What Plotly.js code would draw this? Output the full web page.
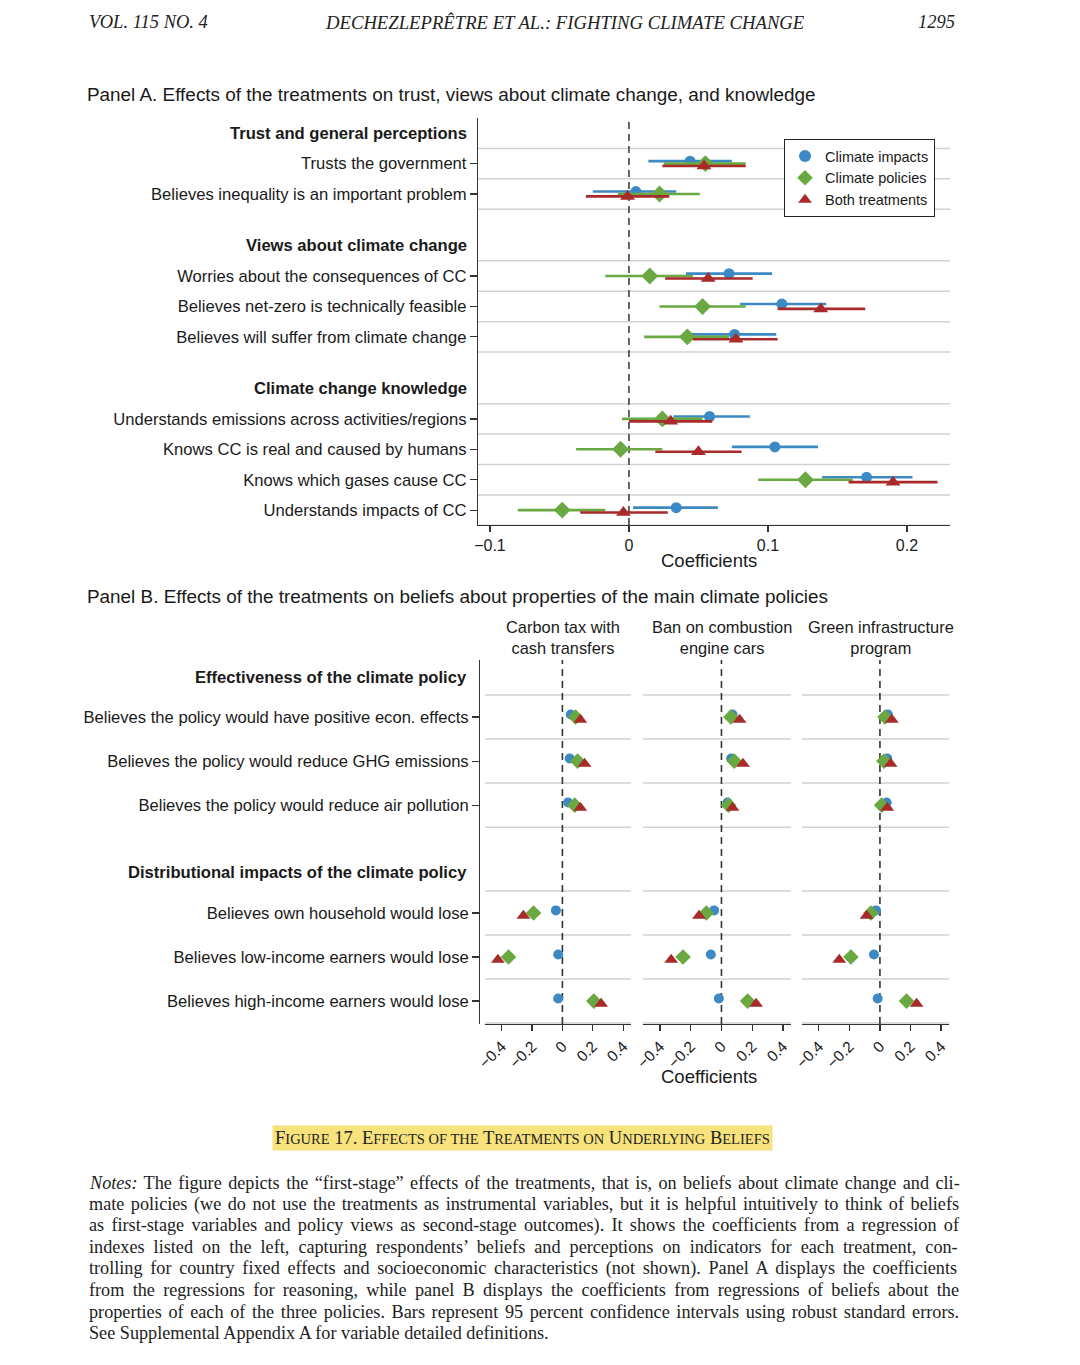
<!DOCTYPE html>
<html>
<head>
<meta charset="utf-8">
<script src="https://cdn.plot.ly/plotly-3.0.1.min.js"></script>
<style>html,body{margin:0;padding:0;background:#fff;}#chart{width:1080px;height:1365px;}</style>
</head>
<body>
<div id="chart"></div>
<script>
// ---------------- DATA ----------------
const seriesNames = ["Climate impacts", "Climate policies", "Both treatments"];

// Panel A
const groupsA = ["Trust and general perceptions", "Views about climate change", "Climate change knowledge"];
const groupSizesA = [2, 3, 4];
const labelsA = [
  "Trusts the government",
  "Believes inequality is an important problem",
  "Worries about the consequences of CC",
  "Believes net-zero is technically feasible",
  "Believes will suffer from climate change",
  "Understands emissions across activities/regions",
  "Knows CC is real and caused by humans",
  "Knows which gases cause CC",
  "Understands impacts of CC"
];
const impactsA   = [0.044, 0.005, 0.072, 0.110, 0.076, 0.058, 0.105, 0.171, 0.034];
const impactsLoA = [0.014, -0.026, 0.041, 0.080, 0.044, 0.032, 0.074, 0.139, 0.003];
const impactsHiA = [0.074, 0.034, 0.103, 0.142, 0.106, 0.087, 0.136, 0.204, 0.064];
const policiesA   = [0.055, 0.022, 0.015, 0.053, 0.042, 0.024, -0.006, 0.127, -0.048];
const policiesLoA = [0.025, -0.008, -0.017, 0.022, 0.011, -0.005, -0.038, 0.093, -0.080];
const policiesHiA = [0.084, 0.051, 0.046, 0.084, 0.072, 0.053, 0.024, 0.161, -0.017];
const bothA   = [0.054, -0.001, 0.057, 0.138, 0.077, 0.030, 0.050, 0.190, -0.004];
const bothLoA = [0.024, -0.031, 0.026, 0.107, 0.046, 0.000, 0.019, 0.158, -0.035];
const bothHiA = [0.084, 0.029, 0.089, 0.170, 0.107, 0.060, 0.081, 0.222, 0.028];
const ticksA = [-0.1, 0, 0.1, 0.2];
const tickTextA = ["\u22120.1", "0", "0.1", "0.2"];

// Panel B
const policiesB = ["Carbon tax with<br>cash transfers", "Ban on combustion<br>engine cars", "Green infrastructure<br>program"];
const groupsB = ["Effectiveness of the climate policy", "Distributional impacts of the climate policy"];
const groupSizesB = [3, 3];
const labelsB = [
  "Believes the policy would have positive econ. effects",
  "Believes the policy would reduce GHG emissions",
  "Believes the policy would reduce air pollution",
  "Believes own household would lose",
  "Believes low-income earners would lose",
  "Believes high-income earners would lose"
];
const carbonImpacts  = [0.055, 0.048, 0.037, -0.043, -0.028, -0.028];
const carbonPolicies = [0.087, 0.100, 0.081, -0.190, -0.355, 0.207];
const carbonBoth     = [0.118, 0.146, 0.118, -0.257, -0.425, 0.255];
const banImpacts  = [0.072, 0.063, 0.039, -0.048, -0.069, -0.017];
const banPolicies = [0.061, 0.083, 0.046, -0.098, -0.250, 0.170];
const banBoth     = [0.118, 0.140, 0.072, -0.146, -0.327, 0.225];
const greenImpacts  = [0.052, 0.048, 0.044, -0.026, -0.039, -0.015];
const greenPolicies = [0.033, 0.026, 0.011, -0.059, -0.190, 0.174];
const greenBoth     = [0.078, 0.070, 0.048, -0.087, -0.266, 0.240];
const ticksB = [-0.4, -0.2, 0, 0.2, 0.4];
const tickTextB = ["\u22120.4", "\u22120.2", "0", "0.2", "0.4"];

const noteLines = [
  "<i>Notes:</i> The figure depicts the \u201cfirst-stage\u201d effects of the treatments, that is, on beliefs about climate change and cli-",
  "mate policies (we do not use the treatments as instrumental variables, but it is helpful intuitively to think of beliefs",
  "as first-stage variables and policy views as second-stage outcomes). It shows the coefficients from a regression of",
  "indexes listed on the left, capturing respondents\u2019 beliefs and perceptions on indicators for each treatment, con-",
  "trolling for country fixed effects and socioeconomic characteristics (not shown). Panel A displays the coefficients",
  "from the regressions for reasoning, while panel B displays the coefficients from regressions of beliefs about the",
  "properties of each of the three policies. Bars represent 95 percent confidence intervals using robust standard errors.",
  "See Supplemental Appendix A for variable detailed definitions."
];

// ---------------- LAYOUT HELPERS ----------------
const W = 1080, H = 1365;
const fx = p => p / W;
const fy = p => 1 - p / H;
const colors = ["#3d89c3", "#6aa842", "#a82a2a"];
const symbols = ["circle", "diamond", "triangle-up"];
const sizesA = [11, 13, 13];
const sizesB = [10, 12, 12];
const SANS = "Liberation Sans, Arial, sans-serif";
const SERIF = "Liberation Serif, Times New Roman, serif";
const LBL = 16.6;

function positions(sizes, first, gap) {
  const headers = [], items = [];
  let p = 0;
  sizes.forEach((n, g) => {
    if (g > 0) p += gap;
    headers.push(p);
    p += first;
    for (let i = 0; i < n; i++) { items.push(p); if (i < n - 1) p += 1; }
  });
  return {headers, items};
}
const posA = positions(groupSizesA, 1, 1.7);
const posB = positions(groupSizesB, 0.91, 1.54);

const traces = [];
// Panel A traces
const estA = [impactsA, policiesA, bothA];
const loA = [impactsLoA, policiesLoA, bothLoA];
const hiA = [impactsHiA, policiesHiA, bothHiA];
const offA = [-0.08, 0, 0.08];
for (let s = 0; s < 3; s++) {
  traces.push({
    type: "scatter", mode: "markers", name: seriesNames[s],
    x: estA[s], y: posA.items.map(v => v + offA[s]),
    xaxis: "x", yaxis: "y",
    marker: {symbol: symbols[s], size: sizesA[s], color: colors[s]},
    error_x: {type: "data", symmetric: false,
      array: hiA[s].map((h, i) => h - estA[s][i]),
      arrayminus: loA[s].map((l, i) => estA[s][i] - l),
      color: colors[s], thickness: 2.6, width: 0},
    showlegend: true
  });
}
// Panel B traces
const estB = [[carbonImpacts, carbonPolicies, carbonBoth], [banImpacts, banPolicies, banBoth], [greenImpacts, greenPolicies, greenBoth]];
const offB = [-0.06, 0, 0.06];
for (let p = 0; p < 3; p++) {
  for (let s = 0; s < 3; s++) {
    traces.push({
      type: "scatter", mode: "markers", name: seriesNames[s],
      x: estB[p][s], y: posB.items.map(v => v + offB[s]),
      xaxis: "x" + (p + 2), yaxis: "y" + (p + 2),
      marker: {symbol: symbols[s], size: sizesB[s], color: colors[s]},
      showlegend: false
    });
  }
}

// ---------------- SHAPES ----------------
const shapes = [];
const grid = {color: "#d2d2d2", width: 1.5};
{
  let k = 0;
  groupSizesA.forEach(n => {
    const first = posA.items[k], last = posA.items[k + n - 1];
    for (let v = first - 0.5; v <= last + 0.51; v += 1) {
      shapes.push({type: "line", xref: "x domain", yref: "y", x0: 0, x1: 1, y0: v, y1: v, line: grid, layer: "below"});
    }
    k += n;
  });
}
shapes.push({type: "line", xref: "x", yref: "y domain", x0: 0, x1: 0, y0: 0, y1: 1, line: {color: "#555", width: 1.8, dash: "7px,5px"}, layer: "below"});
for (let p = 2; p <= 4; p++) {
  let k = 0;
  groupSizesB.forEach(n => {
    const first = posB.items[k], last = posB.items[k + n - 1];
    for (let v = first - 0.5; v <= last + 0.51; v += 1) {
      shapes.push({type: "line", xref: "x" + p + " domain", yref: "y" + p, x0: 0, x1: 1, y0: v, y1: v, line: grid, layer: "below"});
    }
    k += n;
  });
  shapes.push({type: "line", xref: "x" + p, yref: "y" + p + " domain", x0: 0, x1: 0, y0: 0, y1: 1, line: {color: "#333", width: 1.6, dash: "7px,5px"}, layer: "below"});
}

// ---------------- TEXT JUSTIFICATION (notes) ----------------
const NOTE_SIZE = 18.2;
const ctx = document.createElement("canvas").getContext("2d");
function measureLine(html) {
  let w = 0;
  html.split(/(<i>.*?<\/i>)/).forEach(seg => {
    if (!seg) return;
    const it = seg.startsWith("<i>");
    const t = seg.replace(/<\/?i>/g, "");
    ctx.font = (it ? "italic " : "") + NOTE_SIZE + "px 'Liberation Serif'";
    w += ctx.measureText(t).width;
  });
  return w;
}
function justify(html, target) {
  const plain = html.replace(/<[^>]+>/g, "");
  const spaces = (plain.match(/ /g) || []).length;
  const ws = Math.max(0, (target - measureLine(html)) / spaces);
  return "<span style='word-spacing:" + ws.toFixed(2) + "px'>" + html + "</span>";
}

// ---------------- ANNOTATIONS ----------------
const ann = [];
const textAnn = (text, x, y, opts) => Object.assign({text, x: fx(x), y: fy(y), xref: "paper", yref: "paper", showarrow: false, xanchor: "left", yanchor: "middle", font: {family: SANS, size: 16, color: "#1a1a1a"}}, opts || {});
ann.push(textAnn("<i>VOL. 115 NO. 4</i>", 87, 22, {font: {family: SERIF, size: 18.5, color: "#222"}}));
ann.push(textAnn("<i>DECHEZLEPR\u00caTRE ET AL.: FIGHTING CLIMATE CHANGE</i>", 565, 22, {xanchor: "center", font: {family: SERIF, size: 18.7, color: "#222"}}));
ann.push(textAnn("<i>1295</i>", 957, 22, {xanchor: "right", font: {family: SERIF, size: 18.5, color: "#222"}}));
ann.push(textAnn("Panel A. Effects of the treatments on trust, views about climate change, and knowledge", 85, 95, {font: {family: SANS, size: 18.9, color: "#1a1a1a"}}));
ann.push(textAnn("Panel B. Effects of the treatments on beliefs about properties of the main climate policies", 85, 596, {font: {family: SANS, size: 18.9, color: "#1a1a1a"}}));
groupsA.forEach((g, i) => ann.push({text: "<b>" + g + "</b>", xref: "paper", yref: "y", x: fx(469), y: posA.headers[i], xanchor: "right", yanchor: "middle", showarrow: false, font: {family: SANS, size: LBL, color: "#1a1a1a"}}));
groupsB.forEach((g, i) => ann.push({text: "<b>" + g + "</b>", xref: "paper", yref: "y2", x: fx(469), y: posB.headers[i], xanchor: "right", yanchor: "middle", showarrow: false, font: {family: SANS, size: LBL, color: "#1a1a1a"}}));
const colCenters = [563, 722, 881];
policiesB.forEach((t, i) => ann.push(textAnn(t, colCenters[i], 637, {xanchor: "center", align: "center", font: {family: SANS, size: 16.4, color: "#1a1a1a"}})));
ann.push(textAnn("Coefficients", 709, 1076, {xanchor: "center", font: {family: SANS, size: 18.5, color: "#1a1a1a"}}));
ann.push(textAnn("Coefficients", 709, 560, {xanchor: "center", font: {family: SANS, size: 18.5, color: "#1a1a1a"}}));
const sc = s => "<span style='font-size:14.5px'>" + s + "</span>";
ann.push(textAnn("F" + sc("IGURE") + " 17. E" + sc("FFECTS OF THE") + " T" + sc("REATMENTS ON") + " U" + sc("NDERLYING") + " B" + sc("ELIEFS"), 522, 1138,
  {xanchor: "center", bgcolor: "#f7e27c", borderpad: 2, font: {family: SERIF, size: 18.5, color: "#222"}}));
noteLines.forEach((l, i) => {
  const txt = i < noteLines.length - 1 ? justify(l, 870) : l;
  ann.push(textAnn(txt, 87, 1183 + i * 21.45, {font: {family: SERIF, size: NOTE_SIZE, color: "#222"}}));
});

// ---------------- AXES ----------------
const layout = {
  width: W, height: H,
  margin: {l: 0, r: 0, t: 0, b: 0},
  paper_bgcolor: "#fff", plot_bgcolor: "rgba(0,0,0,0)",
  showlegend: true,
  legend: {x: fx(784), y: fy(139), xanchor: "left", yanchor: "top", bgcolor: "#fff", bordercolor: "#222", borderwidth: 1,
    font: {family: SANS, size: 14.5, color: "#1a1a1a"}, itemsizing: "constant", itemwidth: 30, tracegroupgap: 0},
  xaxis: {domain: [fx(478), fx(950)], anchor: "y", range: [-0.1086, 0.231], showgrid: false, zeroline: false,
    showline: true, linecolor: "#333", linewidth: 1.2, ticks: "outside", ticklen: 6, tickwidth: 1.2, tickcolor: "#333",
    tickvals: ticksA, ticktext: tickTextA, tickfont: {family: SANS, size: 16, color: "#1a1a1a"}},
  yaxis: {domain: [fy(525), fy(118)], anchor: "x", range: [12.89, -0.5], showgrid: false, zeroline: false,
    showline: true, linecolor: "#333", linewidth: 1.2, ticks: "outside", ticklen: 7, tickwidth: 1.2, tickcolor: "#333",
    tickvals: posA.items, ticktext: labelsA, tickfont: {family: SANS, size: LBL, color: "#1a1a1a"}}
};
const xdomB = [[485, 631], [643, 791], [802, 949]];
for (let p = 0; p < 3; p++) {
  const n = p + 2;
  layout["xaxis" + n] = {domain: [fx(xdomB[p][0]), fx(xdomB[p][1])], anchor: "y" + n, range: [-0.51, 0.452],
    showgrid: false, zeroline: false, showline: true, linecolor: "#333", linewidth: 1.2,
    ticks: "outside", ticklen: 6, tickwidth: 1.2, tickcolor: "#333",
    tickvals: ticksB, ticktext: tickTextB, tickangle: -45, tickfont: {family: SANS, size: 15.5, color: "#1a1a1a"}};
  layout["yaxis" + n] = {domain: [fy(1024), fy(660)], range: [7.88, -0.386], showgrid: false, zeroline: false,
    showticklabels: false, showline: false, ticks: ""};
  if (p === 0) {
    Object.assign(layout["yaxis" + n], {anchor: "free", position: fx(479), showline: true, linecolor: "#333", linewidth: 1.2,
      ticks: "outside", ticklen: 7, tickwidth: 1.2, tickcolor: "#333", showticklabels: true,
      tickvals: posB.items, ticktext: labelsB, tickfont: {family: SANS, size: LBL, color: "#1a1a1a"}});
  } else {
    layout["yaxis" + n].anchor = "x" + n;
  }
}
layout.shapes = shapes;
layout.annotations = ann;

Plotly.newPlot("chart", traces, layout, {staticPlot: true, displayModeBar: false});
</script>
</body>
</html>
